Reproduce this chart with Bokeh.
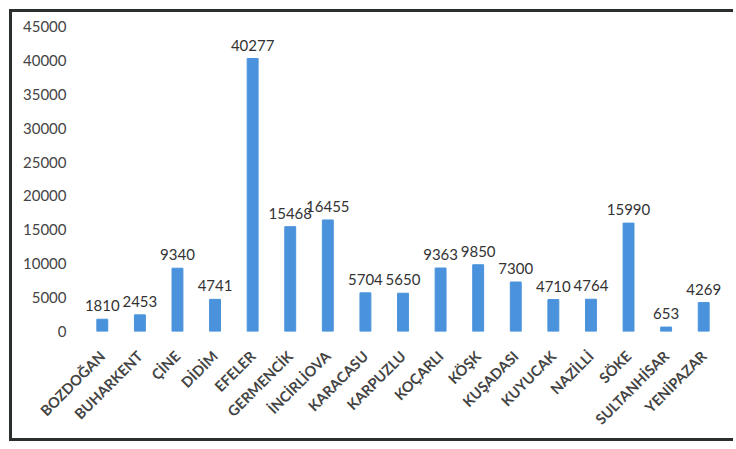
import math
from bokeh.plotting import figure
from bokeh.models import ColumnDataSource, Range1d, FixedTicker, LabelSet
from bokeh.core.properties import value
from bokeh.embed import file_html
from bokeh.resources import INLINE

districts = ["BOZDOĞAN", "BUHARKENT", "ÇİNE", "DİDİM", "EFELER", "GERMENCİK",
             "İNCİRLİOVA", "KARACASU", "KARPUZLU", "KOÇARLI", "KÖŞK", "KUŞADASI",
             "KUYUCAK", "NAZİLLİ", "SÖKE", "SULTANHİSAR", "YENİPAZAR"]
values = [1810, 2453, 9340, 4741, 40277, 15468, 16455, 5704, 5650, 9363,
          9850, 7300, 4710, 4764, 15990, 653, 4269]
y_ticks = [0, 5000, 10000, 15000, 20000, 25000, 30000, 35000, 40000, 45000]

src = ColumnDataSource(dict(x=districts, y=values, lbl=[str(v) for v in values]))

p = figure(x_range=districts, width=724, height=432, output_backend="svg",
           toolbar_location=None, min_border_left=71, min_border_right=14,
           min_border_top=14, min_border_bottom=113)
p.y_range = Range1d(0, 45000)
p.border_fill_color = None
p.styles = {"border-left": "3px solid #2b2f2c", "border-top": "3px solid #2b2f2c",
            "border-bottom": "3px solid #2b2f2c", "box-sizing": "border-box",
            "overflow": "visible", "margin-left": "9px", "margin-top": "9px"}

p.vbar(x="x", top="y", width=0.29, source=src, color="#4a93dc")
p.add_layout(LabelSet(x="x", y="y", text="lbl", source=src, text_align="center",
                      text_baseline="bottom", y_offset=8, text_font_size="15px",
                      text_color="#333333", text_font=value("Lato")))

p.outline_line_color = None
p.xgrid.grid_line_color = None
p.ygrid.grid_line_color = None

p.yaxis.ticker = FixedTicker(ticks=y_ticks)
p.yaxis.axis_line_color = None
p.yaxis.major_tick_line_color = None
p.yaxis.minor_tick_line_color = None
p.yaxis.major_label_text_font = "Lato"
p.yaxis.major_label_text_font_size = "15px"
p.yaxis.major_label_text_color = "#444444"
p.yaxis.major_label_standoff = 11

p.xaxis.axis_line_color = None
p.xaxis.major_tick_line_color = None
p.xaxis.major_label_orientation = math.pi / 4
p.xaxis.major_label_text_font = "Lato"
p.xaxis.major_label_text_font_size = "14.5px"
p.xaxis.major_label_text_font_style = "bold"
p.xaxis.major_label_text_color = "#444444"
p.xaxis.major_label_standoff = 16

open("out.html", "w").write(file_html(p, INLINE))
